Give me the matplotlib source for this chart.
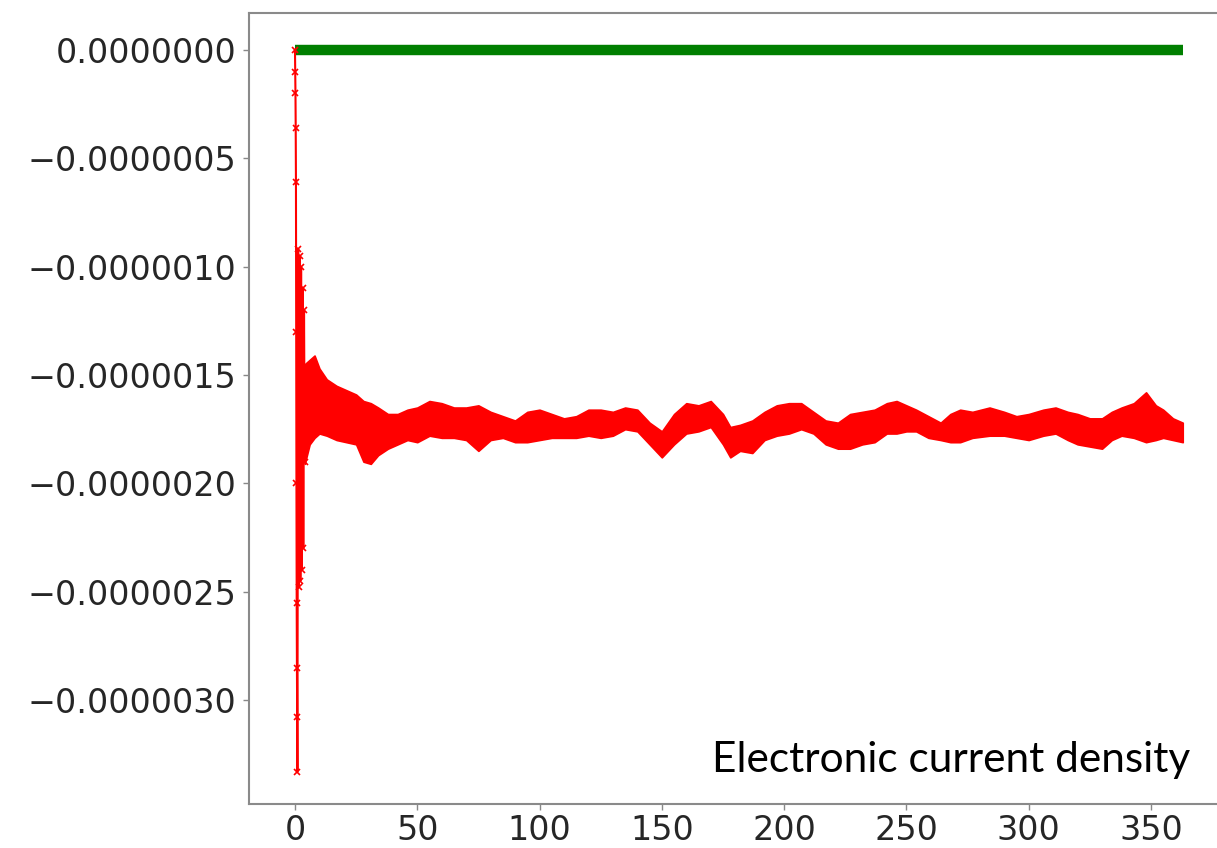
import matplotlib
matplotlib.use("Agg")
import matplotlib.pyplot as plt
from matplotlib.ticker import FuncFormatter

# green series: zero everywhere over the run
green_t = [0.0, 363.0]
green_v = [0.0, 0.0]

# red series, start-up transient (values in 1e-6)
early_t = [0.0, 0.1, 0.2, 0.3, 0.4, 0.5, 0.6, 0.7, 0.8, 0.9, 1.0,
           1.3, 1.6, 1.9, 2.2, 2.5, 2.8, 3.1, 3.4, 3.7, 4.0]
early_v = [0.0, -0.10, -0.20, -0.36, -0.61, -1.30, -2.00, -2.55, -2.85, -3.08, -3.33,
           -0.92, -2.48, -0.95, -2.45, -1.00, -2.40, -1.10, -2.30, -1.20, -1.90]

# red series after the transient: upper / lower edge of the noisy band (1e-6)
band_t = [4, 6, 8, 10, 13, 17, 21, 25, 28, 31, 34, 38, 42, 46, 50, 55, 60, 65, 70, 75,
          80, 85, 90, 95, 100, 105, 110, 115, 120, 125, 130, 135, 140, 145, 150, 155,
          160, 165, 170, 175, 178, 182, 187, 192, 197, 202, 207, 212, 217, 222, 227,
          232, 237, 242, 246, 250, 254, 259, 264, 268, 272, 277, 284, 290, 295, 300,
          306, 311, 316, 320, 325, 330, 334, 338, 343, 348, 352, 355, 359, 363]
band_hi = [-1.45, -1.43, -1.41, -1.47, -1.52, -1.55, -1.57, -1.59, -1.62, -1.63, -1.65,
           -1.68, -1.68, -1.66, -1.65, -1.62, -1.63, -1.65, -1.65, -1.64, -1.67, -1.69,
           -1.71, -1.67, -1.66, -1.68, -1.70, -1.69, -1.66, -1.66, -1.67, -1.65, -1.66,
           -1.72, -1.76, -1.68, -1.63, -1.64, -1.62, -1.68, -1.74, -1.73, -1.71, -1.67,
           -1.64, -1.63, -1.63, -1.67, -1.71, -1.72, -1.68, -1.67, -1.66, -1.63, -1.62,
           -1.64, -1.66, -1.69, -1.72, -1.68, -1.66, -1.67, -1.65, -1.67, -1.69, -1.68,
           -1.66, -1.65, -1.67, -1.68, -1.70, -1.70, -1.67, -1.65, -1.63, -1.58, -1.64,
           -1.66, -1.70, -1.72]
band_lo = [-1.91, -1.82, -1.79, -1.77, -1.78, -1.80, -1.81, -1.82, -1.90, -1.91, -1.87,
           -1.84, -1.82, -1.80, -1.81, -1.78, -1.79, -1.79, -1.80, -1.85, -1.80, -1.79,
           -1.81, -1.81, -1.80, -1.79, -1.79, -1.79, -1.78, -1.79, -1.78, -1.75, -1.76,
           -1.82, -1.88, -1.82, -1.77, -1.76, -1.74, -1.82, -1.88, -1.85, -1.86, -1.80,
           -1.78, -1.77, -1.75, -1.77, -1.82, -1.84, -1.84, -1.82, -1.81, -1.77, -1.77,
           -1.76, -1.76, -1.79, -1.80, -1.81, -1.81, -1.79, -1.78, -1.78, -1.79, -1.80,
           -1.78, -1.77, -1.80, -1.82, -1.83, -1.84, -1.80, -1.78, -1.79, -1.81, -1.80,
           -1.79, -1.80, -1.81]

x_ticks = [0, 50, 100, 150, 200, 250, 300, 350]
y_ticks = [0.0, -0.5e-6, -1.0e-6, -1.5e-6, -2.0e-6, -2.5e-6, -3.0e-6]
label = "Electronic current density"

scale = 1e-6

fig = plt.figure(figsize=(12.17, 8.48), dpi=100)
ax = fig.add_axes([249 / 1217, 44 / 848, 978 / 1217, 791 / 848])

ax.plot(green_t, green_v, color="#007f00", linewidth=7.5, solid_capstyle="butt", zorder=2)

ax.fill_between(band_t, [v * scale for v in band_lo], [v * scale for v in band_hi],
                color="#ff0000", linewidth=1.2, edgecolor="#ff0000", zorder=3)
ax.plot(early_t, [v * scale for v in early_v], color="#ff0000", linewidth=1.5,
        marker="x", markersize=5, markeredgewidth=1.2, zorder=4)

ax.set_xlim(-18.8, 381.1)
ax.set_ylim(-3.48e-6, 0.171e-6)
ax.set_xticks(x_ticks)
ax.set_yticks(y_ticks)


def fmt_y(v, pos):
    s = f"{abs(v):.7f}"
    if v < -1e-12:
        s = "\u2212" + s
    return s


ax.yaxis.set_major_formatter(FuncFormatter(fmt_y))
ax.tick_params(axis="both", labelsize=24, labelcolor="#262626", color="#888888",
               length=4, width=1, pad=5)
ax.tick_params(axis="x", pad=3)
for sp in ax.spines.values():
    sp.set_color("#8a8a8a")
    sp.set_linewidth(1.5)

fig.text(1190 / 1217, 1 - 772 / 848, label, ha="right", va="baseline",
         fontsize=30.5, family=["Lato", "DejaVu Sans"], color="black")

fig.savefig("out.png", dpi=100)
